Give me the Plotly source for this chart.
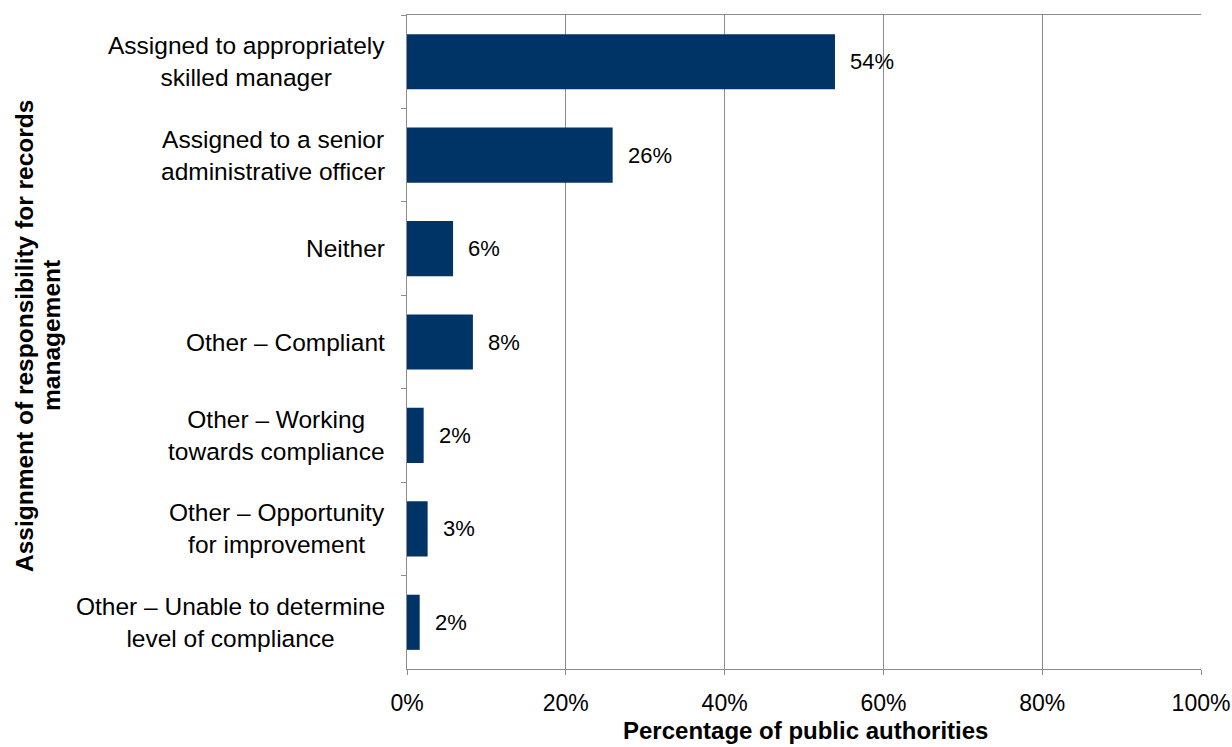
import plotly.graph_objects as go

categories = [
    "Assigned to appropriately<br>skilled manager",
    "Assigned to a senior<br>administrative officer",
    "Neither",
    "Other – Compliant",
    "Other – Working<br>towards compliance",
    "Other – Opportunity<br>for improvement",
    "Other – Unable to determine<br>level of compliance",
]
shares = [53.9, 25.9, 5.8, 8.3, 2.1, 2.6, 1.6]
x_ticks = [0, 20, 40, 60, 80, 100]
x_tick_labels = ["0%", "20%", "40%", "60%", "80%", "100%"]

bar_color = "#003366"
grid_color = "#8c8c8c"
font_family = "Liberation Sans, Arial, sans-serif"

W, H = 1232, 747
ml, mr, mt, mb = 407, 31, 15, 78
pw = W - ml - mr
ph = H - mt - mb

fig = go.Figure()
fig.add_trace(go.Bar(
    x=shares,
    y=categories,
    orientation="h",
    marker=dict(color=bar_color, line=dict(width=0)),
    width=0.59,
    hoverinfo="skip",
))

# value labels placed just right of each bar
for cat, v in zip(categories, shares):
    fig.add_annotation(
        x=v, y=cat, xref="x", yref="y",
        text=f"{v:.0f}%", showarrow=False,
        xanchor="left", xshift=13,
        font=dict(size=22, color="black", family=font_family),
    )

# category labels, centred line by line, to the left of the axis
for cat in categories:
    fig.add_annotation(
        x=0, y=cat, xref="paper", yref="y",
        text=cat, showarrow=False,
        xanchor="right", align="center", xshift=-20,
        font=dict(size=24.5, color="black", family=font_family),
    )

# y-axis title (two rotated lines)
title_lines = ["Assignment of responsibility for records", "management"]
for cx, line in zip([24, 51], title_lines):
    fig.add_annotation(
        x=(cx - ml) / pw, y=(H - mb - 336) / ph, xref="paper", yref="paper",
        text=f"<b>{line}</b>", textangle=-90, showarrow=False,
        xanchor="center", yanchor="middle",
        font=dict(size=24.5, color="black", family=font_family),
    )

# x-axis title
fig.add_annotation(
    x=(805 - ml) / pw, y=-(H - 1 - (H - mb)) / ph, xref="paper", yref="paper",
    text="<b>Percentage of public authorities</b>",
    showarrow=False, yanchor="bottom",
    font=dict(size=24, color="black", family=font_family),
)

fig.update_layout(
    width=W, height=H,
    margin=dict(l=ml, r=mr, t=mt, b=mb, autoexpand=False),
    paper_bgcolor="white", plot_bgcolor="white",
    showlegend=False,
    font=dict(family=font_family, size=23, color="black"),
    xaxis=dict(
        range=[0, 100], tickvals=x_ticks, ticktext=x_tick_labels,
        showgrid=True, gridcolor=grid_color, gridwidth=1,
        showline=True, linecolor=grid_color, linewidth=1, mirror=True,
        ticks="outside", ticklen=5, tickcolor=grid_color,
        ticklabelstandoff=8, zeroline=False, fixedrange=True,
        automargin=False, tickfont=dict(size=23),
    ),
    yaxis=dict(
        autorange="reversed", type="category",
        showgrid=False, showticklabels=False,
        showline=True, linecolor=grid_color, linewidth=1,
        ticks="outside", ticklen=5, tickcolor=grid_color,
        tickson="boundaries", fixedrange=True, automargin=False,
    ),
)

fig.write_html("out.html")
